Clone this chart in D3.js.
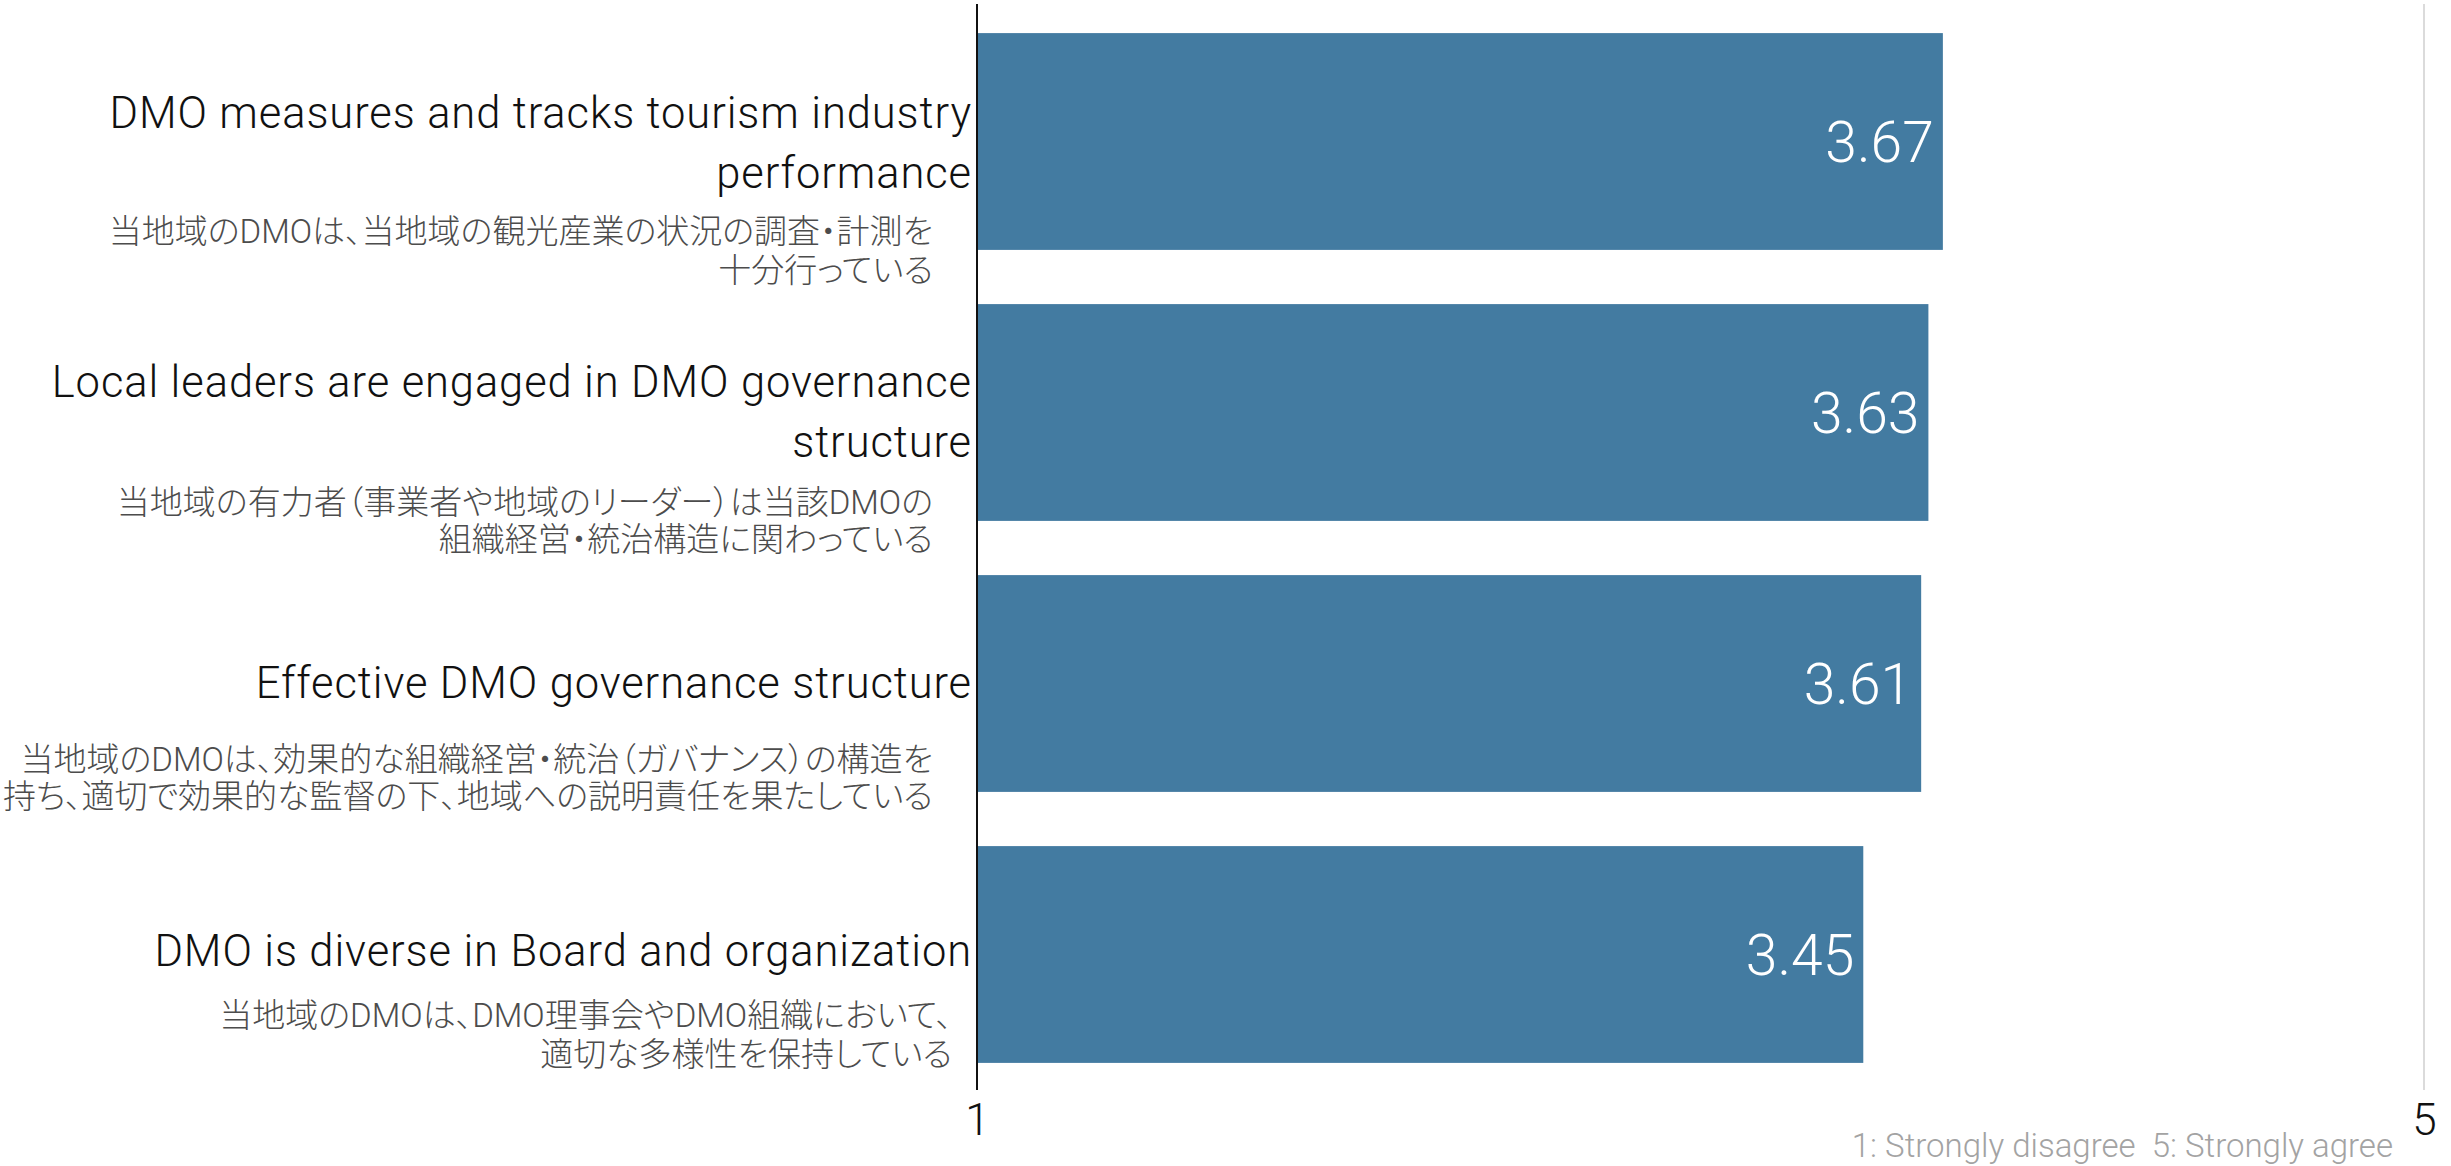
<!DOCTYPE html>
<html>
<head>
<meta charset="utf-8">
<script src="https://cdn.jsdelivr.net/npm/d3@7"></script>
<style>
  html, body { margin: 0; padding: 0; background: #ffffff; }
  svg { display: block; }
</style>
</head>
<body>
<svg id="chart" width="2451" height="1166"></svg>
<script>
// ---------------- data ----------------
const categories = [
  "DMO measures and tracks tourism industry performance",
  "Local leaders are engaged in DMO governance structure",
  "Effective DMO governance structure",
  "DMO is diverse in Board and organization"
];
const englishLines = [
  ["DMO measures and tracks tourism industry", "performance"],
  ["Local leaders are engaged in DMO governance", "structure"],
  ["Effective DMO governance structure"],
  ["DMO is diverse in Board and organization"]
];
const japaneseLines = [
  ["当地域のDMOは、当地域の観光産業の状況の調査・計測を", "十分行っている"],
  ["当地域の有力者（事業者や地域のリーダー）は当該DMOの", "組織経営・統治構造に関わっている"],
  ["当地域のDMOは、効果的な組織経営・統治（ガバナンス）の構造を", "持ち、適切で効果的な監督の下、地域への説明責任を果たしている"],
  ["当地域のDMOは、DMO理事会やDMO組織において、", "適切な多様性を保持している"]
];
const values = [3.67, 3.63, 3.61, 3.45];
const axisTicks = [1, 5];
const footnote = "1: Strongly disagree  5: Strongly agree";

// ---------------- layout ----------------
const W = 2451, H = 1166;
const plotLeft = 977, plotRight = 2424, plotTop = 6, plotBottom = 1090;
// per-row vertical offsets (relative to band centre) for text lines
const enOffsets = [[-14, 46], [-16, 44], [14], [11]];
const jpOffsets = [[101, 140], [101, 138], [87, 124], [72, 111]];
const jpRight = [933, 933, 933, 952];

const svg = d3.select("#chart");

const x = d3.scaleLinear().domain([1, 5]).range([plotLeft, plotRight]);
const y = d3.scaleBand().domain(categories).range([plotTop, plotBottom])
  .paddingInner(0.2).paddingOuter(0.1);

// gridline at max tick
svg.append("line")
  .attr("x1", x(5)).attr("x2", x(5))
  .attr("y1", plotTop - 2).attr("y2", plotBottom)
  .attr("stroke", "#cfcfcf").attr("stroke-width", 1.5);

// bars
svg.append("g").selectAll("rect")
  .data(categories)
  .join("rect")
  .attr("x", x(1))
  .attr("y", d => y(d))
  .attr("width", (d, i) => x(values[i]) - x(1))
  .attr("height", y.bandwidth())
  .attr("fill", "#437ba1");

// value labels
svg.append("g").selectAll("text")
  .data(categories)
  .join("text")
  .attr("x", (d, i) => x(values[i]) - 9)
  .attr("y", d => y(d) + y.bandwidth() / 2)
  .attr("dy", "0.36em")
  .attr("text-anchor", "end")
  .attr("fill", "#ffffff")
  .style("font-family", "Roboto, 'Noto Sans', sans-serif")
  .style("font-weight", "300")
  .style("font-size", "57px")
  .text((d, i) => values[i].toFixed(2));

// baseline axis line at 1
svg.append("line")
  .attr("x1", x(1)).attr("x2", x(1))
  .attr("y1", plotTop - 2).attr("y2", plotBottom)
  .attr("stroke", "#111111").attr("stroke-width", 2);

// x axis ticks
const xAxis = d3.axisBottom(x).tickValues(axisTicks).tickSize(0).tickPadding(14)
  .tickFormat(d3.format("d"));
const gx = svg.append("g").attr("transform", `translate(0,${plotBottom})`).call(xAxis);
gx.select(".domain").remove();
gx.selectAll("text")
  .style("font-family", "Roboto, 'Noto Sans', sans-serif")
  .style("font-weight", "300")
  .style("font-size", "44px")
  .attr("fill", "#111111");

// category labels (English + Japanese)
const labelG = svg.append("g");
categories.forEach((c, i) => {
  const cy = y(c) + y.bandwidth() / 2;
  englishLines[i].forEach((line, j) => {
    labelG.append("text")
      .attr("x", plotLeft - 5)
      .attr("y", cy + enOffsets[i][j])
      .attr("text-anchor", "end")
      .attr("fill", "#111111")
      .style("font-family", "Roboto, 'Noto Sans', sans-serif")
      .style("font-weight", "300")
      .style("font-size", "43.5px")
      .style("letter-spacing", "0.9px")
      .text(line);
  });
  japaneseLines[i].forEach((line, j) => {
    labelG.append("text")
      .attr("x", jpRight[i])
      .attr("y", cy + jpOffsets[i][j])
      .attr("text-anchor", "end")
      .attr("fill", "#4c4c4c")
      .style("font-family", "Roboto, 'Noto Sans CJK JP', sans-serif")
      .style("font-weight", "300")
      .style("font-size", "33px")
      .style("font-feature-settings", "'palt' 1")
      .text(line);
  });
});

// footnote
svg.append("text")
  .attr("x", 2393)
  .attr("y", 1157)
  .attr("text-anchor", "end")
  .attr("fill", "#a3a3a3")
  .style("white-space", "pre")
  .attr("xml:space", "preserve")
  .style("font-family", "Roboto, 'Noto Sans', sans-serif")
  .style("font-weight", "300")
  .style("font-size", "33px")
  .text(footnote);
</script>
</body>
</html>
